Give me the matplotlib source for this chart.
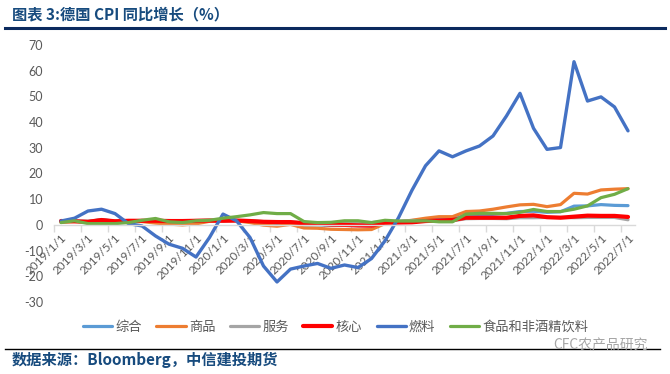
import numpy as np
import matplotlib
matplotlib.use("Agg")
import matplotlib.pyplot as plt
import matplotlib.transforms as mtransforms
from matplotlib.lines import Line2D

plt.rcParams['font.family'] = ['Noto Sans CJK SC', 'DejaVu Sans']
plt.rcParams['axes.unicode_minus'] = False

# monthly data, 2019/1 .. 2022/7
dates = [f"{y}/{m}/1" for y in range(2019, 2023) for m in range(1, 13)][:43]
tick_labels = dates[::2]

composite = [1.4, 1.5, 1.3, 2.0, 1.4, 1.6, 1.7, 1.4, 1.2, 1.1, 1.1, 1.5,
             1.7, 1.7, 1.4, 0.9, 0.6, 0.9, -0.1, 0.0, -0.2, -0.2, -0.3, -0.3,
             1.0, 1.3, 1.7, 2.0, 2.5, 2.3, 3.8, 3.9, 4.1, 4.5, 5.2, 5.3,
             4.9, 5.1, 7.3, 7.4, 7.9, 7.6, 7.5]
goods = [1.0, 1.3, 1.2, 1.9, 1.2, 1.3, 1.3, 0.7, 0.3, 0.0, 0.4, 1.4,
         1.8, 1.6, 0.9, -0.1, -0.5, 0.2, -1.2, -1.3, -1.7, -1.8, -1.9, -1.8,
         0.5, 1.2, 1.8, 2.6, 3.2, 3.2, 5.2, 5.4, 6.1, 7.0, 7.8, 8.0,
         7.1, 7.9, 12.3, 12.0, 13.6, 13.9, 14.1]
services = [1.7, 1.5, 1.4, 2.0, 1.5, 1.6, 1.7, 1.7, 1.7, 1.5, 1.7, 1.8,
            1.6, 1.7, 1.7, 1.3, 1.3, 1.2, 0.9, 0.9, 0.8, 0.9, 0.9, 0.9,
            1.3, 1.4, 1.6, 1.6, 1.7, 1.6, 2.4, 2.5, 2.5, 2.4, 2.8, 2.8,
            2.9, 2.9, 2.8, 2.9, 2.9, 2.9, 2.0]
core = [1.5, 1.4, 1.2, 1.9, 1.4, 1.6, 1.6, 1.6, 1.5, 1.5, 1.6, 1.7,
        1.6, 1.7, 1.5, 1.2, 1.1, 1.1, 0.6, 0.5, 0.1, 0.0, -0.2, -0.3,
        0.9, 0.9, 1.0, 1.5, 1.7, 1.9, 2.8, 2.8, 2.8, 2.8, 3.5, 3.7,
        3.0, 2.8, 3.2, 3.6, 3.5, 3.5, 3.1]
fuel = [1.5, 2.6, 5.4, 6.1, 4.4, 0.5, -0.4, -4.3, -7.5, -9.1, -12.5, -4.9,
        4.2, 1.6, -4.9, -16.0, -22.2, -17.2, -16.0, -15.0, -16.9, -15.6, -16.6, -13.1,
        -6.2, 2.8, 13.5, 23.0, 28.8, 26.5, 28.8, 30.7, 34.6, 42.4, 51.2, 37.6,
        29.4, 30.1, 63.5, 48.2, 49.8, 45.9, 36.6]
food = [0.9, 1.6, 0.5, 0.5, 0.5, 0.9, 1.8, 2.5, 1.2, 0.9, 1.6, 1.8,
        2.6, 3.2, 3.9, 4.8, 4.4, 4.4, 1.3, 0.9, 1.0, 1.6, 1.6, 0.9,
        1.8, 1.5, 1.5, 1.6, 1.2, 1.2, 4.2, 4.5, 4.5, 4.4, 4.9, 6.0,
        5.2, 5.2, 6.1, 7.4, 10.6, 11.9, 14.1]

series = [("综合", composite, "#5B9BD5", 2.3),
          ("商品", goods, "#ED7D31", 2.3),
          ("服务", services, "#A5A5A5", 2.3),
          ("核心", core, "#FF0000", 3.0),
          ("燃料", fuel, "#4472C4", 2.4),
          ("食品和非酒精饮料", food, "#70AD47", 2.3)]

fig = plt.figure(figsize=(6.7, 3.74), dpi=100)
ax = fig.add_axes([54.25 / 670, 1 - 302 / 374, 580.5 / 670, 257 / 374])

x = np.arange(len(dates))
for name, vals, col, lw in series:
    ax.plot(x, vals, color=col, lw=lw, label=name,
            solid_joinstyle="round", solid_capstyle="round")

ax.set_xlim(-0.5, len(dates) - 0.5)
ax.set_ylim(-30, 70)
ax.set_yticks(range(-30, 80, 10))

for s in ["top", "right", "left"]:
    ax.spines[s].set_visible(False)
ax.spines["bottom"].set_position(("data", 0))
ax.spines["bottom"].set_color("#d9d9d9")
ax.spines["bottom"].set_linewidth(1.0)

ax.set_xticks(x[::2])
ax.set_xticklabels(tick_labels, rotation=45, ha="right", va="center",
                   rotation_mode="anchor", family="Lato", fontsize=8.5,
                   color="#595959")
ax.tick_params(axis="x", which="major", length=0, pad=0)
# shift rotated labels so their ends sit just right of and below each category
offset = mtransforms.ScaledTranslation(4 / 100, -11 / 100, fig.dpi_scale_trans)
for lab in ax.get_xticklabels():
    lab.set_transform(lab.get_transform() + offset)
ax.set_xticks(np.arange(-0.5, len(dates), 2), minor=True)
ax.tick_params(axis="x", which="minor", length=5, color="#d9d9d9", width=1)
ax.tick_params(axis="y", length=0, pad=8, labelcolor="#595959", labelsize=9)
for t in ax.get_yticklabels():
    t.set_family("Lato")

fig.legend(loc="center", bbox_to_anchor=(0.501, 1 - 327.5 / 374), ncol=6,
           frameon=False, fontsize=9.5, handlelength=2.2, handletextpad=0.25,
           columnspacing=1.1, labelcolor="#595959")

# header and footer
fig.text(12 / 670, 1 - 14 / 374, "图表 3:德国 CPI 同比增长（%）", fontsize=11,
         weight="bold", color="#174b7e", va="center")
fig.add_artist(Line2D([5 / 670, 665 / 670], [1 - 28 / 374] * 2, color="#0b2a5e", lw=2.2))
fig.add_artist(Line2D([5 / 670, 660 / 670], [1 - 348.5 / 374] * 2, color="black", lw=1.0))
fig.text(12 / 670, 1 - 360 / 374, "数据来源：Bloomberg，中信建投期货", fontsize=11,
         weight="bold", color="#174b7e", va="center")
fig.text(648 / 670, 1 - 345 / 374, "CFC农产品研究", fontsize=10, color="#a6a6a6",
         ha="right", va="center")

fig.savefig("out.png", dpi=100)
